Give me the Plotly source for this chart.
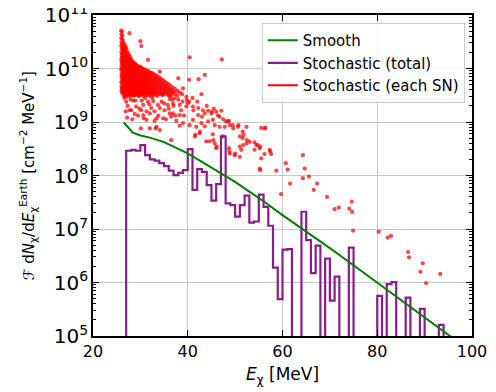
import plotly.graph_objects as go

# smooth (expected) flux
smooth_E = [26.5, 28.4, 30, 32, 35, 38, 40, 43, 46, 50, 53, 56, 60, 65, 70, 75, 80, 85, 90, 95, 97]
smooth_flux = [9.8e8, 6.3e8, 5.6e8, 5.1e8, 4.2e8, 3.2e8, 2.6e8, 1.8e8, 1.26e8, 7.6e7, 5.0e7,
               3.3e7, 1.82e7, 9.1e6, 4.4e6, 2.1e6, 1.0e6, 4.8e5, 2.2e5, 1.05e5, 7.8e4]

# stochastic total, 1 MeV bins from 27 to 95 MeV (0 = empty bin)
hist_edges = list(range(27, 96))
hist_flux = [
    2.9e8, 3.0e8, 2.9e8, 3.7e8, 2.4e8, 2.0e8, 1.9e8, 1.7e8, 1.5e8, 1.23e8,   # 27-36
    1.02e8, 1.12e8, 1.26e8, 3.1e8, 5.4e7, 1.32e8, 1.17e8, 6.6e7, 3.4e7, 6.9e7,  # 37-46
    5.4e8, 3.0e7, 2.8e7, 1.7e7, 2.8e7, 4.2e7, 1.32e7, 1.38e7, 4.4e7, 2.6e7,    # 47-56
    1.15e7, 1.9e6, 4.9e5, 4.1e6, 4.2e6, 0, 0, 2.1e7, 6.2e6, 1.5e6,            # 57-66
    4.9e6, 0, 2.8e6, 4.6e5, 1.29e6, 0, 0, 4.5e6, 0, 0,                        # 67-76
    0, 0, 0, 5.6e5, 0, 9.3e5, 1.02e6, 0, 0, 5.2e5,                            # 77-86
    0, 0, 3.2e5, 0, 0, 0, 1.62e5, 0,                                          # 87-94
]

# each supernova, log10 flux
# narrow strip right at threshold: (E, log10 flux)
sn_strip = [
    (25.95, 10.71), (26.10, 10.69), (26.02, 10.64), (26.21, 10.61), (25.98, 10.57), (26.12, 10.55),
    (26.30, 10.52), (26.05, 10.49), (26.18, 10.46), (25.96, 10.43), (26.27, 10.41), (26.08, 10.38),
    (26.15, 10.35), (26.36, 10.33), (25.99, 10.30), (26.22, 10.28), (26.06, 10.25), (26.31, 10.22),
    (26.13, 10.20), (25.97, 10.17), (26.25, 10.15), (26.04, 10.12), (26.17, 10.10), (26.40, 10.08),
    (26.01, 10.05), (26.28, 10.03), (26.11, 10.00), (25.95, 9.98), (26.20, 9.96), (26.35, 9.94),
    (26.07, 9.91), (26.24, 9.89), (26.00, 9.86), (26.14, 9.84), (26.42, 9.82), (26.09, 9.79),
    (26.29, 9.77), (25.98, 9.74), (26.19, 9.72), (26.38, 9.70), (26.05, 9.67), (26.23, 9.65),
    (26.12, 9.62), (26.33, 9.60), (26.02, 9.58), (26.26, 9.56), (26.16, 9.54),
]
# dense cloud: energy column -> log10 flux values
sn_cloud = [
    (26.55, [10.47, 10.36, 10.27, 10.16, 10.08, 9.99, 9.92, 9.84, 9.77, 9.70, 9.62, 9.55, 9.49]),
    (26.68, [10.41, 10.31, 10.21, 10.12, 10.03, 9.95, 9.88, 9.80, 9.73, 9.66, 9.58, 9.52]),
    (26.80, [10.42, 10.30, 10.21, 10.11, 10.03, 9.95, 9.88, 9.80, 9.73, 9.66, 9.58, 9.51]),
    (26.93, [10.35, 10.25, 10.16, 10.07, 9.99, 9.91, 9.84, 9.77, 9.69, 9.62, 9.55]),
    (27.05, [10.38, 10.25, 10.13, 10.06, 9.97, 9.90, 9.83, 9.76, 9.69, 9.61, 9.54, 9.47]),
    (27.18, [10.28, 10.17, 10.10, 10.02, 9.94, 9.87, 9.80, 9.73, 9.65, 9.58, 9.51]),
    (27.30, [10.31, 10.19, 10.09, 10.01, 9.93, 9.86, 9.79, 9.72, 9.64, 9.57, 9.50]),
    (27.43, [10.23, 10.13, 10.05, 9.97, 9.90, 9.83, 9.76, 9.68, 9.61, 9.54]),
    (27.55, [10.26, 10.14, 10.04, 9.96, 9.89, 9.81, 9.74, 9.67, 9.60, 9.52]),
    (27.70, [10.18, 10.08, 10.00, 9.92, 9.85, 9.77, 9.70, 9.62, 9.54]),
    (27.85, [10.22, 10.10, 10.02, 9.94, 9.86, 9.79, 9.71, 9.63, 9.55, 9.48]),
    (27.98, [10.15, 10.05, 9.97, 9.90, 9.82, 9.75, 9.67, 9.59, 9.51]),
    (28.10, [10.17, 10.06, 9.98, 9.91, 9.84, 9.76, 9.69, 9.61, 9.53]),
    (28.25, [10.11, 10.02, 9.94, 9.87, 9.79, 9.72, 9.64, 9.56]),
    (28.40, [10.13, 10.03, 9.95, 9.88, 9.80, 9.73, 9.66, 9.58, 9.50]),
    (28.55, [10.08, 9.99, 9.91, 9.84, 9.76, 9.69, 9.61, 9.54]),
    (28.70, [10.10, 10.01, 9.93, 9.85, 9.78, 9.70, 9.63, 9.56, 9.49]),
    (28.85, [10.05, 9.96, 9.89, 9.81, 9.73, 9.66, 9.58, 9.51]),
    (29.00, [10.08, 9.99, 9.91, 9.83, 9.75, 9.68, 9.60, 9.53]),
    (29.15, [10.03, 9.94, 9.87, 9.79, 9.71, 9.63, 9.55]),
    (29.30, [10.06, 9.97, 9.89, 9.81, 9.73, 9.66, 9.58, 9.51]),
    (29.48, [10.01, 9.92, 9.85, 9.77, 9.69, 9.61, 9.53]),
    (29.65, [10.04, 9.95, 9.87, 9.79, 9.71, 9.63, 9.56, 9.48]),
    (29.82, [9.99, 9.90, 9.82, 9.74, 9.66, 9.58, 9.50]),
    (30.00, [10.03, 9.94, 9.85, 9.77, 9.69, 9.61, 9.53]),
    (30.15, [9.97, 9.88, 9.80, 9.72, 9.64, 9.56]),
    (30.30, [10.01, 9.92, 9.83, 9.75, 9.67, 9.59, 9.51]),
    (30.48, [9.96, 9.87, 9.78, 9.70, 9.62, 9.54]),
    (30.65, [9.99, 9.90, 9.82, 9.74, 9.65, 9.57, 9.49]),
    (30.82, [9.94, 9.85, 9.77, 9.68, 9.60, 9.52]),
    (31.00, [9.98, 9.89, 9.80, 9.72, 9.63, 9.55]),
    (31.18, [9.92, 9.84, 9.75, 9.66, 9.58, 9.50]),
    (31.35, [9.96, 9.87, 9.78, 9.70, 9.61, 9.53]),
    (31.52, [9.91, 9.82, 9.73, 9.64, 9.56]),
    (31.70, [9.95, 9.86, 9.77, 9.68, 9.59, 9.50]),
    (31.88, [9.89, 9.80, 9.71, 9.62, 9.54]),
    (32.05, [9.93, 9.84, 9.75, 9.66, 9.57, 9.49]),
    (32.22, [9.88, 9.78, 9.69, 9.60, 9.52]),
    (32.40, [9.92, 9.82, 9.73, 9.64, 9.55]),
    (32.58, [9.86, 9.76, 9.67, 9.58, 9.50]),
    (32.75, [9.90, 9.80, 9.71, 9.62, 9.53]),
    (32.92, [9.84, 9.74, 9.65, 9.56]),
    (33.10, [9.88, 9.78, 9.69, 9.60, 9.51]),
    (33.30, [9.82, 9.72, 9.63, 9.54]),
    (33.50, [9.86, 9.76, 9.67, 9.58, 9.49]),
    (33.70, [9.80, 9.70, 9.60, 9.51]),
    (33.90, [9.84, 9.74, 9.64, 9.55]),
    (34.10, [9.77, 9.67, 9.57]),
    (34.30, [9.81, 9.71, 9.62, 9.52]),
    (34.50, [9.74, 9.64, 9.54]),
    (34.70, [9.79, 9.69, 9.59, 9.50]),
    (34.90, [9.71, 9.61, 9.52]),
    (35.10, [9.76, 9.66, 9.56]),
    (35.30, [9.68, 9.58]),
    (35.50, [9.73, 9.63, 9.53]),
    (35.70, [9.66, 9.56]),
    (35.90, [9.71, 9.61, 9.50]),
    (36.10, [9.63, 9.53]),
    (36.30, [9.68, 9.58, 9.48]),
    (36.55, [9.60, 9.51]),
    (36.80, [9.65, 9.55]),
    (37.05, [9.57]),
    (37.30, [9.62, 9.52]),
    (37.80, [9.58, 9.49]),
    (38.30, [9.55]),
    (38.80, [9.52]),
]
# looser points around and beyond the cloud: (E, log10 flux)
sn_loose = [
    (27.7, 10.66), (30.0, 10.51), (30.2, 10.42), (31.6, 10.16), (34.1, 9.94), (38.0, 9.82),
    (40.4, 10.21), (47.2, 10.17), (42.3, 9.80), (43.6, 9.88), (40.3, 9.79), (39.0, 9.63), (42.9, 9.52),
    (26.6, 9.45), (26.9, 9.20), (27.0, 9.38), (27.2, 9.08), (27.3, 9.30), (27.7, 9.22), (27.9, 9.42),
    (28.1, 9.22), (28.3, 9.05), (28.5, 9.40), (28.8, 9.15), (29.0, 9.40), (29.1, 9.29), (29.5, 9.12),
    (29.8, 9.25), (30.1, 8.88), (30.2, 9.22), (30.3, 9.40), (30.6, 9.13), (30.6, 9.32), (30.7, 9.07),
    (31.0, 9.45), (31.3, 9.04), (31.3, 9.20), (31.6, 9.38), (31.9, 9.33), (32.0, 9.16), (32.0, 8.88),
    (32.3, 9.26), (32.5, 9.45), (32.7, 9.39), (33.0, 9.02), (33.0, 9.20), (33.2, 8.88), (33.4, 8.91),
    (33.4, 9.07), (33.7, 9.32), (33.8, 9.12), (34.1, 9.26), (34.1, 8.85), (34.5, 9.38), (34.8, 9.07),
    (35.0, 9.35), (35.1, 9.22), (35.4, 9.05), (35.8, 9.32), (36.0, 9.25), (36.2, 9.43), (36.2, 9.16),
    (36.5, 9.10), (36.5, 8.66), (36.7, 9.42), (36.9, 9.16), (36.9, 9.35), (37.0, 9.30), (37.2, 9.44),
    (37.4, 9.12), (37.6, 9.02), (38.0, 9.42), (38.3, 9.13), (38.3, 9.32), (38.3, 8.93), (38.6, 9.22),
    (38.9, 9.38), (39.0, 8.98), (39.2, 9.12), (39.7, 9.47), (39.7, 9.29), (39.8, 9.41), (40.0, 9.35),
    (40.3, 9.38), (40.4, 8.94), (41.0, 9.45), (41.1, 9.29), (41.1, 9.04), (41.2, 9.22), (41.5, 8.73),
    (41.6, 8.76), (41.8, 8.91), (42.0, 9.38), (42.2, 9.26), (42.2, 9.13), (42.5, 8.79), (42.6, 8.82),
    (42.9, 8.98), (43.0, 9.10), (43.2, 9.22), (43.6, 9.16), (43.6, 8.92), (43.9, 8.64), (44.0, 9.30),
    (44.3, 9.21), (44.3, 9.01), (44.6, 8.64), (45.0, 9.16), (45.1, 9.19), (45.3, 8.77), (45.3, 9.04),
    (45.4, 8.66), (45.5, 9.25), (45.7, 8.94), (45.7, 8.60), (46.0, 9.19), (46.0, 8.51), (46.1, 8.54),
    (46.4, 9.12), (46.7, 8.91), (46.7, 9.10), (47.1, 9.21), (47.4, 8.73), (47.5, 9.05), (47.8, 8.91),
    (48.1, 9.01), (48.5, 9.01), (48.7, 8.51), (48.7, 9.02), (48.8, 8.45), (48.9, 8.94), (48.9, 8.41),
    (49.5, 8.94), (49.6, 8.88), (49.9, 8.38), (50.0, 8.41), (50.6, 8.91), (50.7, 8.94), (51.0, 8.73),
    (51.0, 8.54), (51.0, 8.35), (51.3, 8.48), (51.6, 8.82), (51.6, 8.70), (51.7, 8.57), (51.8, 8.76),
    (52.4, 8.91), (52.4, 8.60), (52.5, 8.66), (53.1, 8.63), (54.1, 8.62), (54.1, 8.48), (54.5, 8.57),
    (54.8, 8.57), (55.2, 8.51), (55.3, 8.54), (55.2, 8.13), (55.3, 8.10), (55.5, 8.89), (55.5, 8.32),
    (56.2, 8.40), (56.2, 8.88), (56.4, 8.89), (57.3, 8.48), (57.4, 8.45), (57.6, 8.40), (58.7, 8.09),
    (59.7, 7.65), (60.7, 8.23), (61.1, 8.11), (61.6, 7.85), (64.3, 8.38), (64.3, 7.95), (64.7, 8.13),
    (65.6, 7.98), (66.6, 7.73), (67.3, 7.85), (69.4, 7.60), (71.0, 7.37), (71.9, 7.40), (74.1, 7.38),
    (74.6, 7.51), (74.7, 7.32), (74.9, 6.97), (80.3, 6.95), (82.2, 6.84), (82.9, 6.87), (86.5, 6.57),
    (86.7, 6.47), (89.1, 6.20), (89.6, 6.36), (90.3, 5.99), (93.3, 6.16),
]

sn_pairs = list(sn_strip) + [(e, lg) for e, logs in sn_cloud for lg in logs] + list(sn_loose)
sn_E = [p[0] for p in sn_pairs]
sn_flux = [10 ** p[1] for p in sn_pairs]

# step outline for the histogram; empty bins drop below the axis
floor = 1e3
step_x = [hist_edges[0]] + hist_edges
step_y = [floor] + [v if v > 0 else floor for v in hist_flux] + [floor]

fig = go.Figure()

fig.add_trace(go.Scatter(
    x=sn_E, y=sn_flux, mode="markers", showlegend=False,
    marker=dict(color="rgba(255,0,0,0.72)", size=4.2, line=dict(width=0)),
))
fig.add_trace(go.Scatter(
    x=step_x, y=step_y, mode="lines", line_shape="hv", name="Stochastic (total)",
    line=dict(color="#8a1c8c", width=2.2), legendrank=2,
))
fig.add_trace(go.Scatter(
    x=smooth_E, y=smooth_flux, mode="lines", name="Smooth",
    line=dict(color="green", width=2), legendrank=1,
))
fig.add_trace(go.Scatter(
    x=[None], y=[None], mode="lines", name="Stochastic (each SN)",
    line=dict(color="red", width=2), legendrank=3,
))

axis_common = dict(
    showline=True, linecolor="black", linewidth=1.5, mirror="ticks",
    ticks="inside", ticklen=6, tickwidth=1.2, tickcolor="black",
    showgrid=True, gridcolor="#c8c8c8", gridwidth=1, zeroline=False,
    tickfont=dict(size=16, color="black"), automargin=False, ticklabeloverflow="allow",
)

fig.update_xaxes(range=[20, 100], tickvals=[20, 40, 60, 80, 100], **axis_common)
fig.update_yaxes(
    type="log", range=[5, 11], dtick=1, exponentformat="power",
    minor=dict(ticks="inside", ticklen=3, tickcolor="black", dtick="D1", showgrid=False),
    **axis_common,
)

fig.add_annotation(
    text="<i>E</i><sub>χ</sub> [MeV]", xref="paper", yref="paper",
    x=0.5, y=-0.122, xanchor="center", yanchor="middle", showarrow=False,
    font=dict(size=17, color="black"),
)
fig.add_annotation(
    text="ℱ d<i>N</i><sub>χ</sub>/d<i>E</i><sub>χ</sub><sup>Earth</sup> [cm<sup>−2</sup> MeV<sup>−1</sup>]",
    xref="paper", yref="paper", x=-0.172, y=0.5, xanchor="center", yanchor="middle",
    textangle=-90, showarrow=False, font=dict(size=15, color="black"),
)

# the page body adds an 8 px margin, so the figure is 8 px smaller than the window
fig.update_layout(
    width=488, height=384,
    margin=dict(l=85, r=24, t=7, b=56),
    paper_bgcolor="white", plot_bgcolor="white",
    font=dict(family="DejaVu Sans", color="black"),
    legend=dict(
        x=0.981, y=0.975, xanchor="right", yanchor="top",
        bgcolor="rgba(255,255,255,0.85)", bordercolor="#cccccc", borderwidth=1,
        font=dict(size=15), tracegroupgap=0,
    ),
)

fig.write_html("out.html")
